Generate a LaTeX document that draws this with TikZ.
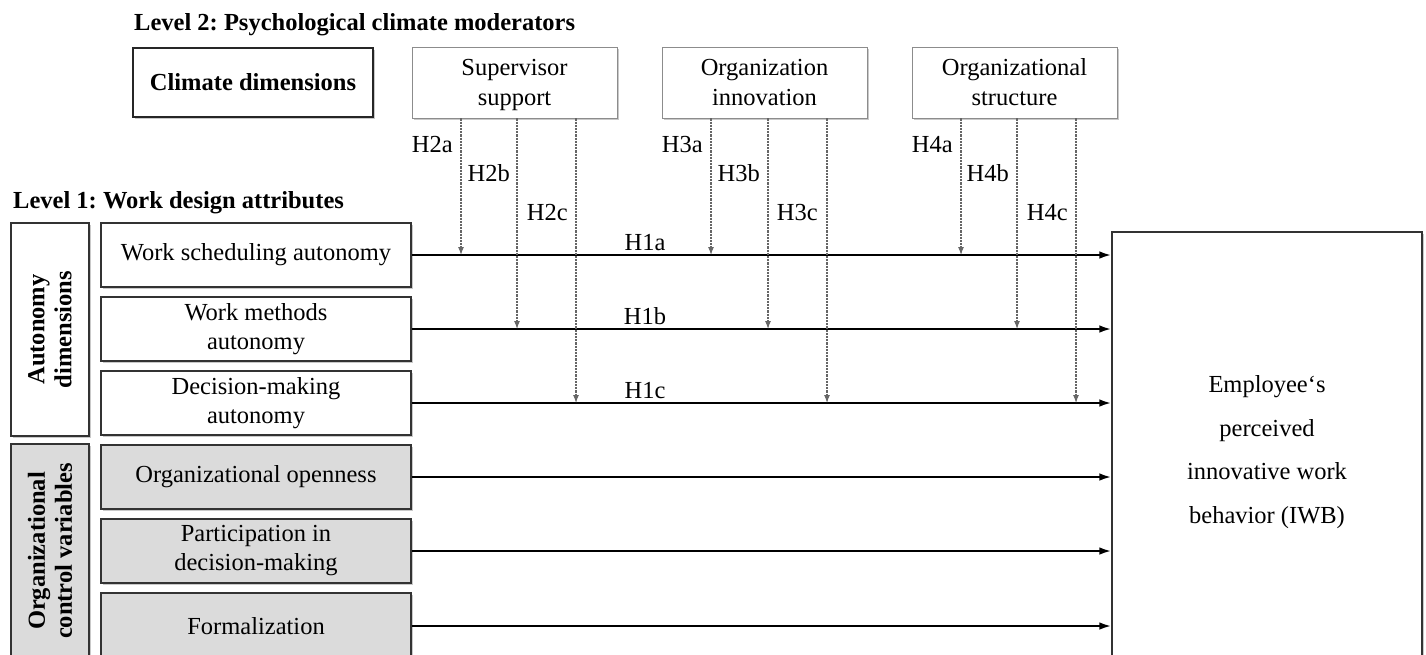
\documentclass[tikz,border=0pt]{standalone}
\usepackage{fontspec}
\setmainfont{Liberation Serif}
\frenchspacing
\usetikzlibrary{arrows.meta,shadows}
\begin{document}
\begin{tikzpicture}[x=1pt,y=-1pt,
  txt/.style={font=\fontsize{24.5}{30}\selectfont},
  btxt/.style={font=\bfseries\fontsize{24.5}{28}\selectfont},
  shad/.style={drop shadow={shadow xshift=2pt,shadow yshift=-2pt,opacity=0.35,fill=black!60}},
  modbox/.style={draw=black!45,line width=0.8pt,fill=white,shad,minimum width=205pt,minimum height=71pt,inner sep=0pt,align=center,txt},
  rowbox/.style={draw=black!80,line width=1.1pt,fill=white,shad,minimum width=310pt,minimum height=64pt,inner sep=0pt,align=center,font=\fontsize{24.5}{29}\selectfont},
  graybox/.style={rowbox,fill=black!14},
  sidebox/.style={draw=black!80,line width=1.1pt,fill=white,shad,minimum width=78pt,minimum height=213pt,inner sep=0pt},
  modarrow/.style={draw=black!60,line width=1.1pt,dash pattern=on 2.2pt off 1pt,-{Latex[length=8pt,width=6pt]}},
  mainarrow/.style={draw=black,line width=2.2pt,-{Latex[length=12pt,width=7.5pt]}},
  hlab/.style={txt,inner sep=0pt}
]
\useasboundingbox (0,0) rectangle (1426,654);
\fill[white] (0,0) rectangle (1426,654);

% titles
\node[btxt,anchor=base west,inner sep=0pt] (lev2) at (134,30) {Level 2: Psychological climate moderators};
\node[btxt,anchor=base west,inner sep=0pt] (lev1) at (13,208) {Level 1: Work design attributes};

% climate boxes
\node[draw=black!85,line width=1.5pt,fill=white,shad,minimum width=240pt,minimum height=69pt,inner sep=0pt,btxt] (clim) at (253,82.5) {Climate dimensions};
\node[modbox] (sup) at (514.5,82.5) {};
\node[modbox] (inn) at (764.5,82.5) {};
\node[modbox] (str) at (1014.5,82.5) {};
\node[txt,align=center,inner sep=0pt] (supt) at (514.5,84) {Supervisor\strut\\support\strut};
\node[txt,align=center,inner sep=0pt] (innt) at (764.5,84) {Organization\strut\\innovation\strut};
\node[txt,align=center,inner sep=0pt] (strt) at (1014.5,84) {Organizational\strut\\structure\strut};

% side boxes
\node[sidebox] (s1) at (50,329.5) {};
\node[rotate=90,align=center,font=\bfseries\fontsize{24.5}{27}\selectfont] (s1t) at (s1.center) {Autonomy\\dimensions};
\node[sidebox,fill=black!14,minimum height=216pt] (s2) at (50,552) {};
\node[rotate=90,align=center,font=\bfseries\fontsize{24.5}{27}\selectfont] (s2t) at (50,551) {Organizational\\control variables};

% row boxes
\node[rowbox] (r1) at (256,255) {Work scheduling autonomy};
\node[rowbox] (r2) at (256,329) {Work methods\\autonomy};
\node[rowbox] (r3) at (256,403) {Decision-making\\autonomy};
\node[graybox] (r4) at (256,477) {Organizational openness};
\node[graybox] (r5) at (256,551) {Participation in\\decision-making};
\node[graybox,minimum height=66pt] (r6) at (256,626) {Formalization};

% outcome
\node[draw=black!80,line width=1.1pt,fill=white,shad,minimum width=310pt,minimum height=430pt,inner sep=0pt] (iwb) at (1267,447) {};
\node[align=center,font=\fontsize{24.5}{43.5}\selectfont] (iwbt) at (1267,452) {Employee‘s\\perceived\\innovative work\\behavior (IWB)};

% main arrows
\foreach \r in {r1,r2,r3,r4,r5,r6}{
  \draw[mainarrow] (\r.east) -- (\r.east -| iwb.west);
}
\node[hlab,anchor=base] (h1a) at (645,250) {H1a};
\node[hlab,anchor=base] (h1b) at (645,324) {H1b};
\node[hlab,anchor=base] (h1c) at (645,398) {H1c};

% moderator arrows
\coordinate (t2a) at (461,255);
\coordinate (t2b) at (517,329);
\coordinate (t2c) at (576,403);
\coordinate (t3a) at (711,255);
\coordinate (t3b) at (768,329);
\coordinate (t3c) at (827,403);
\coordinate (t4a) at (961,255);
\coordinate (t4b) at (1017,329);
\coordinate (t4c) at (1076,403);
\draw[modarrow] (sup.south -| t2a) -- (t2a);
\draw[modarrow] (sup.south -| t2b) -- (t2b);
\draw[modarrow] (sup.south -| t2c) -- (t2c);
\draw[modarrow] (inn.south -| t3a) -- (t3a);
\draw[modarrow] (inn.south -| t3b) -- (t3b);
\draw[modarrow] (inn.south -| t3c) -- (t3c);
\draw[modarrow] (str.south -| t4a) -- (t4a);
\draw[modarrow] (str.south -| t4b) -- (t4b);
\draw[modarrow] (str.south -| t4c) -- (t4c);

\node[hlab,anchor=east] (h2a) at (453,145) {H2a};
\node[hlab,anchor=east] (h2b) at (510,173) {H2b};
\node[hlab,anchor=east] (h2c) at (568,213) {H2c};
\node[hlab,anchor=east] (h3a) at (703,145) {H3a};
\node[hlab,anchor=east] (h3b) at (760,173) {H3b};
\node[hlab,anchor=east] (h3c) at (818,213) {H3c};
\node[hlab,anchor=east] (h4a) at (953,145) {H4a};
\node[hlab,anchor=east] (h4b) at (1009,173) {H4b};
\node[hlab,anchor=east] (h4c) at (1068,213) {H4c};
\end{tikzpicture}
\end{document}
